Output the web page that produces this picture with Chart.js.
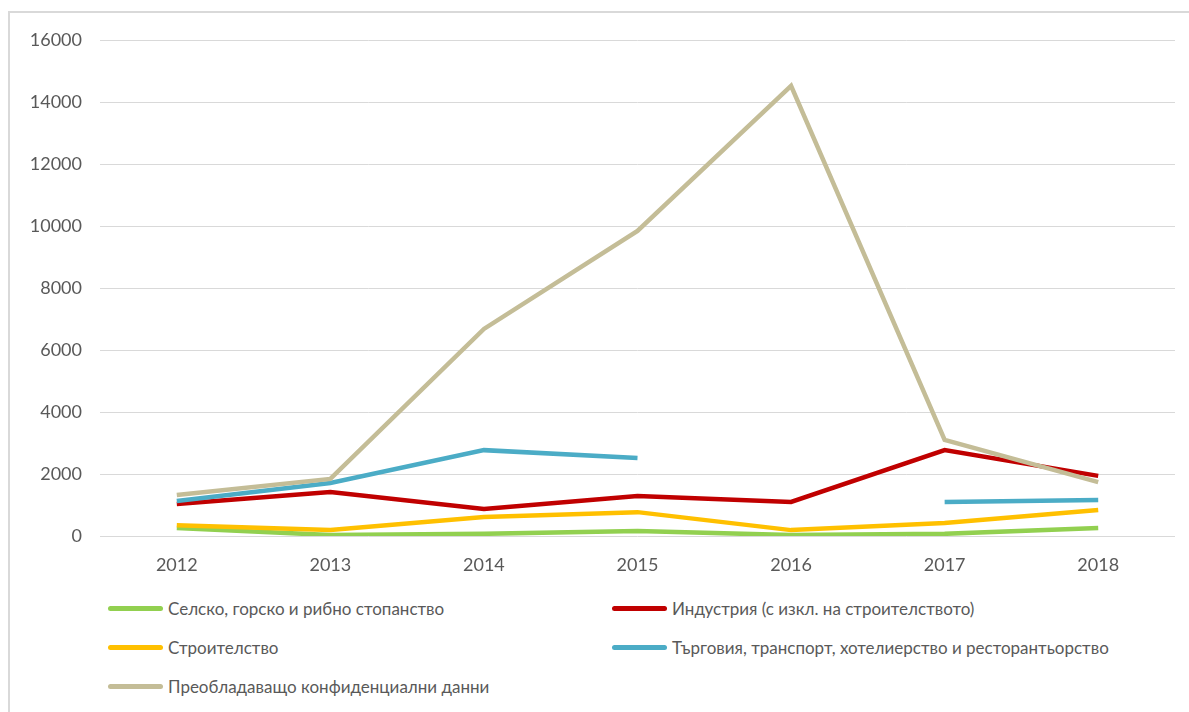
<!DOCTYPE html>
<html>
<head>
<meta charset="utf-8">
<script src="https://cdn.jsdelivr.net/npm/chart.js@4.4.1/dist/chart.umd.min.js"></script>
<style>
  body { margin: 0; background: #fff; width: 1189px; height: 712px; overflow: hidden; position: relative; }
  #frame { position: absolute; left: 8px; top: 11px; width: 1300px; height: 800px; border-top: 2px solid #d9d9d9; border-left: 2px solid #d9d9d9; }
  #wrap { position: absolute; left: 8px; top: 11px; width: 1181px; height: 570px; }
  #legend { position: absolute; left: 108px; top: 598px; width: 1081px; font-family: Lato, "Open Sans", sans-serif; font-size: 17px; color: #595959; }
  .item { position: absolute; display: flex; align-items: center; white-space: nowrap; }
  .swatch { width: 55px; height: 5px; border-radius: 3px; margin-right: 5px; }
</style>
</head>
<body>
<div id="frame"></div>
<div id="wrap"><canvas id="lineChart"></canvas></div>
<div id="legend"></div>
<script>
const years = ['2012', '2013', '2014', '2015', '2016', '2017', '2018'];
const agriculture = [260, 30, 70, 160, 30, 70, 260];
const industry = [1030, 1420, 870, 1290, 1100, 2770, 1940];
const construction = [350, 190, 610, 770, 190, 420, 840];
const trade = [1130, 1710, 2770, 2520, null, 1100, 1160];
const confidential = [1320, 1840, 6680, 9840, 14520, 3100, 1740];
const yTicks = [0, 2000, 4000, 6000, 8000, 10000, 12000, 14000, 16000];

const seriesNames = [
  'Селско, горско и рибно стопанство',
  'Индустрия (с изкл. на строителството)',
  'Строителство',
  'Търговия, транспорт, хотелиерство и ресторантьорство',
  'Преобладаващо конфиденциални данни'
];
const seriesColors = ['#92D050', '#C00000', '#FFC000', '#4BACC6', '#C4BD97'];
const seriesData = [agriculture, industry, construction, trade, confidential];

// draw order: confidential sits behind the others
const drawOrder = [4, 3, 2, 1, 0];

const datasets = seriesNames.map((name, i) => ({
  label: name,
  data: seriesData[i],
  borderColor: seriesColors[i],
  backgroundColor: seriesColors[i],
  borderWidth: 4.5,
  pointRadius: 0,
  tension: 0,
  spanGaps: false,
  order: drawOrder[i]
}));

const tickFont = { family: 'Lato, "Open Sans", sans-serif', size: 18 };

new Chart(document.getElementById('lineChart').getContext('2d'), {
  type: 'line',
  data: { labels: years, datasets: datasets },
  options: {
    responsive: true,
    maintainAspectRatio: false,
    animation: false,
    layout: { padding: { top: 29, right: 14, left: 0, bottom: 0 } },
    plugins: { legend: { display: false }, tooltip: { enabled: false } },
    scales: {
      x: {
        offset: true,
        grid: { display: false, drawTicks: false, offset: true },
        border: { display: false },
        ticks: { color: '#595959', font: tickFont, padding: 18, maxRotation: 0 },
        afterFit: s => { s.height = 45; }
      },
      y: {
        min: 0,
        max: 16000,
        afterBuildTicks: s => { s.ticks = yTicks.map(v => ({ value: v })); },
        grid: { color: '#d9d9d9', lineWidth: 1, drawTicks: false },
        border: { display: false },
        ticks: { color: '#595959', font: tickFont, padding: 18, callback: v => String(v) },
        afterFit: s => { s.width = 92; }
      }
    }
  }
});

// legend in two columns, as in the original
const legend = document.getElementById('legend');
seriesNames.forEach((name, i) => {
  const item = document.createElement('div');
  item.className = 'item';
  item.style.left = (i % 2 === 0 ? 0 : 504) + 'px';
  item.style.top = (Math.floor(i / 2) * 39) + 'px';
  const sw = document.createElement('span');
  sw.className = 'swatch';
  sw.style.background = seriesColors[i];
  const tx = document.createElement('span');
  tx.textContent = name;
  item.appendChild(sw);
  item.appendChild(tx);
  legend.appendChild(item);
});
</script>
</body>
</html>
